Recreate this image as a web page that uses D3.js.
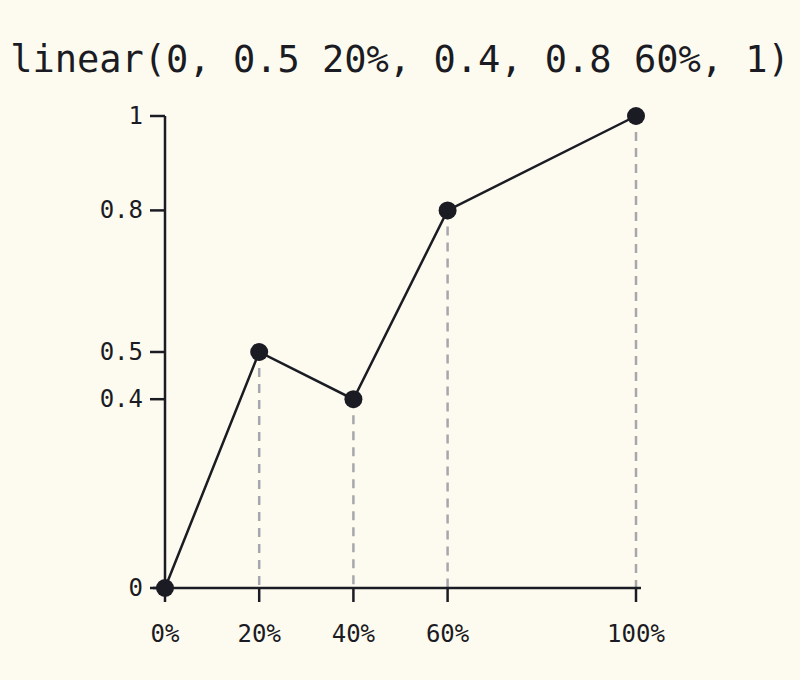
<!DOCTYPE html>
<html><head><meta charset="utf-8">
<script src="https://cdn.jsdelivr.net/npm/d3@7"></script>
<style>body{margin:0;background:#fdfbef}</style>
</head><body><div id="chart"></div>
<script>
const xs = [0, 20, 40, 60, 100];
const ys = [0, 0.5, 0.4, 0.8, 1];
const yTicks = [0, 0.4, 0.5, 0.8, 1];
const title = "linear(0, 0.5 20%, 0.4, 0.8 60%, 1)";

const W = 800, H = 680;
const svg = d3.select("#chart").append("svg").attr("width", W).attr("height", H);
svg.append("rect").attr("width", W).attr("height", H).attr("fill", "#fdfbef");
const font = "'DejaVu Sans Mono', monospace";
const ink = "#1b1b24";

svg.append("text").attr("x", 400).attr("y", 72).attr("text-anchor", "middle")
  .attr("font-family", font).attr("font-size", 37).attr("fill", ink).text(title);

const x = d3.scaleLinear().domain([0, 100]).range([165, 636]);
const y = d3.scaleLinear().domain([0, 1]).range([588, 116]);

// dashed guides
svg.selectAll(".guide").data(xs.slice(1)).enter().append("line")
  .attr("x1", (d) => x(d)).attr("x2", (d) => x(d))
  .attr("y1", (d, i) => y(ys[i + 1])).attr("y2", y(0))
  .attr("stroke", "#a8a6ad").attr("stroke-width", 2.5).attr("stroke-dasharray", "9,7");

// axes
svg.append("line").attr("x1", x(0)).attr("x2", x(0)).attr("y1", y(1)).attr("y2", y(0))
  .attr("stroke", ink).attr("stroke-width", 2.5);
svg.append("line").attr("x1", x(0) - 12).attr("x2", x(100) + 5).attr("y1", y(0)).attr("y2", y(0))
  .attr("stroke", ink).attr("stroke-width", 2.5);

svg.selectAll(".yt").data(yTicks).enter().append("line")
  .attr("x1", x(0) - 15).attr("x2", x(0)).attr("y1", (d) => y(d)).attr("y2", (d) => y(d))
  .attr("stroke", ink).attr("stroke-width", 2.5);
svg.selectAll(".yl").data(yTicks).enter().append("text")
  .attr("x", x(0) - 22).attr("y", (d) => y(d) + 8).attr("text-anchor", "end")
  .attr("font-family", font).attr("font-size", 24).attr("fill", ink).text((d) => d);

svg.selectAll(".xt").data(xs).enter().append("line")
  .attr("x1", (d) => x(d)).attr("x2", (d) => x(d)).attr("y1", y(0)).attr("y2", y(0) + 14)
  .attr("stroke", ink).attr("stroke-width", 2.5);
svg.selectAll(".xl").data(xs).enter().append("text")
  .attr("x", (d) => x(d)).attr("y", 642).attr("text-anchor", "middle")
  .attr("font-family", font).attr("font-size", 24).attr("fill", ink).text((d) => d + "%");

// line + points
const pts = xs.map((d, i) => [x(d), y(ys[i])]);
svg.append("path").attr("d", d3.line()(pts)).attr("fill", "none")
  .attr("stroke", ink).attr("stroke-width", 2.5);
svg.selectAll(".pt").data(pts).enter().append("circle")
  .attr("cx", (d) => d[0]).attr("cy", (d) => d[1]).attr("r", 9).attr("fill", ink);
</script></body></html>
